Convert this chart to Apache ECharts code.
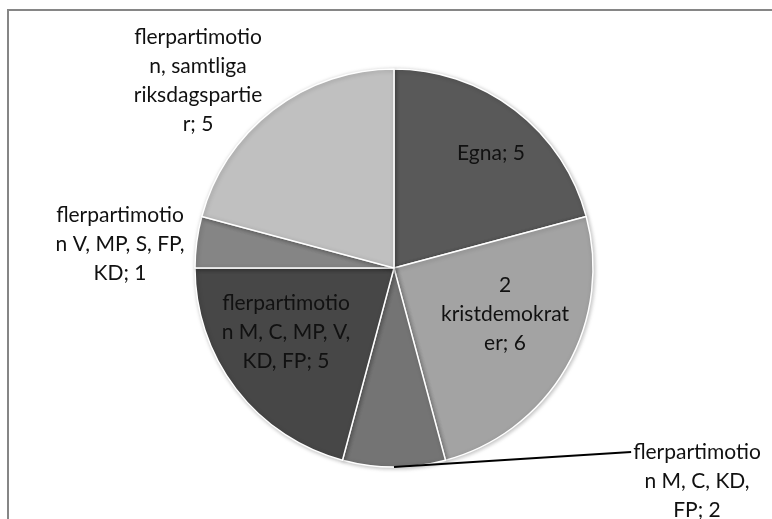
<!DOCTYPE html>
<html><head><meta charset="utf-8">
<script src="https://cdn.jsdelivr.net/npm/echarts@6/dist/echarts.min.js"></script>
<style>html,body{margin:0;padding:0;background:#fff}#c{width:772px;height:519px}</style>
</head><body><div id="c"></div>
<script>
// Data
const categories = ["Egna", "2 kristdemokrater", "flerpartimotion M, C, KD, FP", "flerpartimotion M, C, MP, V, KD, FP", "flerpartimotion V, MP, S, FP, KD", "flerpartimotion, samtliga riksdagspartier"];
const values = [5, 6, 2, 5, 1, 5];
const wrappedNames = ["Egna", "2\nkristdemokrat\ner", "flerpartimotio\nn M, C, KD,\nFP", "flerpartimotio\nn M, C, MP, V,\nKD, FP", "flerpartimotio\nn V, MP, S, FP,\nKD", "flerpartimotio\nn, samtliga\nriksdagspartie\nr"];

// Styles
const colors = ["#595959", "#a3a3a3", "#747474", "#474747", "#858585", "#c0c0c0"];
const labelCenters = [[491,153],[505,314],[697,481],[286,332],[120,244],[198,81]];
const CX = 394, CY = 268, R = 199;
const FONT = 'Lato', FS = 21, LH = 29;

const total = values.reduce((a,b)=>a+b,0);
function midAngle(i){ // radians, math convention, clockwise from 90deg
  let s = 0; for (let k=0;k<i;k++) s += values[k];
  const mid = s + values[i]/2;
  return Math.PI/2 - mid/total*2*Math.PI;
}
function labelText(i){ return wrappedNames[i] + '; ' + values[i]; }
const ctx = document.createElement('canvas').getContext('2d');
ctx.font = FS + 'px ' + FONT;
function textWidth(s){ return Math.max.apply(null, s.split('\n').map(l=>ctx.measureText(l).width)); }

// leader line for the outside label (index 2), from the slice's arc midpoint to the label
const li = 2;
const m = midAngle(li);
const anchor = [CX + R*Math.cos(m), CY - R*Math.sin(m)];
const lt = labelText(li);
const nLines = lt.split('\n').length;
const endPt = [labelCenters[li][0] - textWidth(lt)/2 - 2, labelCenters[li][1] - nLines*LH/2 + LH/2];

const chart = echarts.init(document.getElementById('c'));
chart.setOption({
  animation: false,
  graphic: [
    {type:'rect', shape:{x:8,y:10,width:900,height:700}, style:{fill:'none', stroke:'#868686', lineWidth:2}, z:-1},
    {type:'polyline', shape:{points:[anchor, endPt]}, style:{stroke:'#000', lineWidth:1.8, fill:'none'}, z:10}
  ],
  series: [{
    type: 'pie',
    center: [CX, CY],
    radius: [0, R],
    startAngle: 90,
    clockwise: true,
    data: categories.map((c,i)=>({name:c, value:values[i], itemStyle:{color:colors[i]}})),
    itemStyle: {borderColor:'#fff', borderWidth:1.5, shadowBlur:4, shadowColor:'rgba(0,0,0,0.25)', shadowOffsetX:1, shadowOffsetY:1},
    label: {
      show: true,
      position: 'outside',
      formatter: p => labelText(p.dataIndex),
      fontFamily: FONT,
      fontSize: FS,
      lineHeight: LH,
      color: '#111',
      align: 'center'
    },
    labelLine: {show: false},
    labelLayout: function (p) {
      const c = labelCenters[p.dataIndex];
      return {x: c[0], y: c[1], align:'center', verticalAlign:'middle'};
    }
  }]
});
</script></body></html>
